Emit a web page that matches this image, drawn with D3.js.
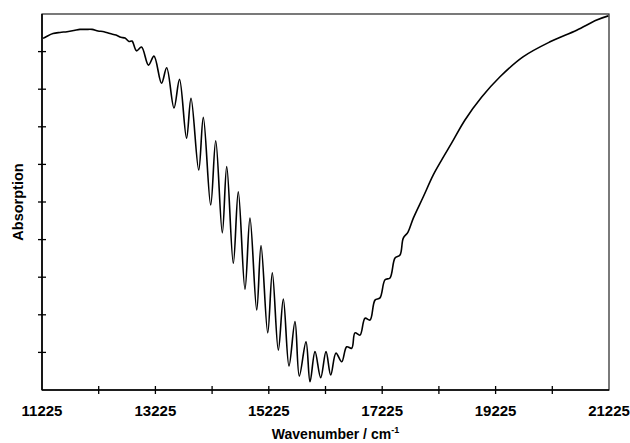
<!DOCTYPE html>
<html>
<head>
<meta charset="utf-8">
<script src="https://cdn.jsdelivr.net/npm/d3@7"></script>
<style>
  body { margin: 0; background: #fff; }
  svg { display: block; }
  text { font-family: Arial, "Liberation Sans", sans-serif; font-weight: bold; fill: #000; }
</style>
</head>
<body>
<svg id="chart"></svg>
<script>
// absorption spectrum

const wavenumber = [
  11243, 11313, 11419, 11542, 11666, 11789, 11895, 12001, 12107, 12213,
  12318, 12424, 12530, 12618, 12689, 12759, 12812, 12892, 12980, 13103,
  13200, 13333, 13424, 13553, 13650, 13774, 13853, 13989, 14070, 14200,
  14289, 14405, 14483, 14599, 14687, 14805, 14893, 15012, 15088, 15206,
  15287, 15393, 15481, 15581, 15687, 15763, 15881, 15952, 16040, 16140,
  16234, 16317, 16410, 16511, 16599, 16687, 16745, 16834, 16922, 17010,
  17098, 17186, 17275, 17363, 17451, 17539, 17597, 17680, 17774, 17950,
  18126, 18275, 18451, 18685, 18980, 19303, 19708, 20185, 20655, 21008,
  21213
];
const absorption = [
  9.35, 9.41, 9.48, 9.51, 9.53, 9.56, 9.59, 9.59, 9.59, 9.55,
  9.53, 9.48, 9.44, 9.38, 9.36, 9.27, 9.28, 9.02, 9.12, 8.64,
  8.88, 8.16, 8.57, 7.50, 8.26, 6.70, 7.76, 5.85, 7.25, 4.92,
  6.63, 4.18, 5.94, 3.37, 5.27, 2.68, 4.57, 2.13, 3.84, 1.52,
  3.12, 1.06, 2.42, 0.64, 1.82, 0.37, 1.28, 0.22, 1.02, 0.33,
  1.02, 0.40, 0.98, 0.75, 1.15, 1.11, 1.52, 1.46, 1.91, 1.86,
  2.39, 2.45, 2.93, 2.98, 3.51, 3.59, 4.04, 4.20, 4.57, 5.14,
  5.72, 6.12, 6.57, 7.18, 7.79, 8.33, 8.86, 9.26, 9.57, 9.84,
  9.95
];

const xLabels = [11225, 13225, 15225, 17225, 19225, 21225];
const xMinor = [12225, 14225, 16225, 18225, 20225];
const yTicks = [1, 2, 3, 4, 5, 6, 7, 8, 9];

let width = 630, height = 443;
const margin = {top: 14, right: 21, bottom: 53, left: 42};

const svg = d3.select("#chart").attr("width", width).attr("height", height);

const x = d3.scaleLinear().domain([11225, 21225]).range([margin.left, width - margin.right]);
const y = d3.scaleLinear().domain([0, 10]).range([height - margin.bottom, margin.top]);

const data = wavenumber.map((w, i) => ({w: w, a: absorption[i]}));

// frame
svg.append("rect")
  .attr("x", x(11225)).attr("y", y(10))
  .attr("width", x(21225) - x(11225)).attr("height", y(0) - y(10))
  .attr("fill", "none").attr("stroke", "#222").attr("stroke-width", 1.2);

// spectrum
const line = d3.line().x(d => x(d.w)).y(d => y(d.a)).curve(d3.curveCatmullRom.alpha(0.5));
svg.append("path")
  .datum(data)
  .attr("d", line)
  .attr("fill", "none")
  .attr("stroke", "#000")
  .attr("stroke-width", 1.6);

// axes lines
svg.append("line")
  .attr("x1", x(11225)).attr("x2", x(21225))
  .attr("y1", y(0)).attr("y2", y(0))
  .attr("stroke", "#000").attr("stroke-width", 1.6);
svg.append("line")
  .attr("x1", x(11225)).attr("x2", x(11225))
  .attr("y1", y(0)).attr("y2", y(10))
  .attr("stroke", "#000").attr("stroke-width", 1.6);

// x ticks (crossing the axis)
svg.selectAll(".xtick")
  .data(xLabels.concat(xMinor).filter(d => d != 11225 && d != 21225))
  .enter().append("line")
  .attr("x1", d => x(d)).attr("x2", d => x(d))
  .attr("y1", y(0) - 4).attr("y2", y(0) + 4)
  .attr("stroke", "#000").attr("stroke-width", 1.3);

svg.selectAll(".xlab")
  .data(xLabels)
  .enter().append("text")
  .attr("x", d => x(d))
  .attr("y", y(0) + 26)
  .attr("text-anchor", "middle")
  .style("font-size", "15px")
  .text(d => d);

// y ticks, no labels
svg.selectAll(".ytick")
  .data(yTicks)
  .enter().append("line")
  .attr("x1", x(11225) - 4).attr("x2", x(11225) + 4)
  .attr("y1", d => y(d)).attr("y2", d => y(d))
  .attr("stroke", "#000").attr("stroke-width", 1.3);

// titles
let xt = svg.append("text")
  .attr("x", (x(11225) + x(21225)) / 2 + 10)
  .attr("y", height - 4)
  .attr("text-anchor", "middle")
  .style("font-size", "14px");
xt.append("tspan").text("Wavenumber / cm");
xt.append("tspan").attr("dy", -6).style("font-size", "9px").text("-1");

svg.append("text")
  .attr("transform", `translate(23, ${(y(0) + y(10)) / 2}) rotate(-90)`)
  .attr("text-anchor", "middle")
  .style("font-size", "14.5px")
  .text("Absorption");
</script>
</body>
</html>
